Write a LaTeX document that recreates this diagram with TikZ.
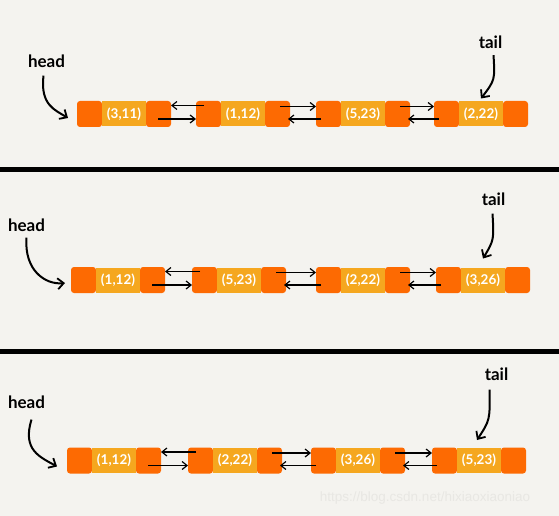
\documentclass[tikz,border=0pt]{standalone}
\usepackage{fontspec}
\setmainfont{Lato}
\newfontfamily\wmfont{Liberation Sans}
\usetikzlibrary{arrows.meta}
\definecolor{bg}{HTML}{F4F3EF}
\definecolor{orng}{HTML}{FD6A02}
\definecolor{ylw}{HTML}{F5A71F}
\definecolor{wm}{HTML}{E8E7E3}
\tikzset{
  orbox/.style={minimum width=25pt, minimum height=26pt, inner sep=0pt, outer sep=0pt, fill=orng, rounded corners=3pt},
  ylbox/.style={minimum width=44pt, minimum height=25pt, inner sep=0pt, outer sep=0pt, fill=ylw, text=white, font=\bfseries\fontsize{13.5}{13.5}\selectfont},
  ptr/.style={line width=1.3pt, -{Straight Barb[length=5pt,width=8pt,line width=1.2pt]}},
  bigptr/.style={line width=2pt, -{Straight Barb[length=6pt,width=11pt,line width=1.8pt]}},
  lbl/.style={font=\bfseries\fontsize{17}{17}\selectfont, inner sep=0pt},
  sep/.style={fill=black}
}
\newcommand\lnode[4]{%
  \node[orbox, anchor=west] (#1l) at (#2,#3) {};
  \node[ylbox, anchor=west] (#1m) at (#1l.east) {#4};
  \node[orbox, anchor=west] (#1r) at (#1m.east) {};
}
% top arrow back, bottom arrow forward
\newcommand\linkA[2]{%
  \draw[ptr] ([xshift=8pt,yshift=8.5pt]#2l.west) -- ([yshift=8.5pt]#1r.east);
  \draw[ptr] ([xshift=-13pt,yshift=-5pt]#1r.east) -- ([yshift=-5pt]#2l.west);
}
% top arrow forward, bottom arrow back
\newcommand\linkB[2]{%
  \draw[ptr] ([xshift=-10pt,yshift=7.5pt]#1r.east) -- ([yshift=7.5pt]#2l.west);
  \draw[ptr] ([xshift=5pt,yshift=-5pt]#2l.west) -- ([xshift=-2pt,yshift=-5pt]#1r.east);
}
\begin{document}
\begin{tikzpicture}[x=1pt,y=-1pt]
\useasboundingbox (0,0) rectangle (559,516);
\fill[bg] (0,0) rectangle (559,516);
\fill[sep] (0,166.5) rectangle (559,171.5);
\fill[sep] (0,349) rectangle (559,354);

% panel 1
\lnode{pa}{77}{114}{(3,11)}
\lnode{pb}{196}{114}{(1,12)}
\lnode{pc}{316}{114}{(5,23)}
\lnode{pd}{434}{114}{(2,22)}
\linkA{pa}{pb}
\linkB{pb}{pc}
\linkB{pc}{pd}
\node[lbl] (h1) at (46.5,61) {head};
\node[lbl] (t1) at (490.5,42.5) {tail};
\draw[bigptr] ([xshift=-3pt,yshift=-8pt]h1.south) .. controls (40,105) and (55,110) .. ([xshift=-9pt,yshift=-4pt]pal.west);
\draw[bigptr] ([xshift=3pt,yshift=-6pt]t1.south) .. controls (495,80) .. ([yshift=3pt]pdm.north);

% panel 2
\lnode{qa}{71}{280}{(1,12)}
\lnode{qb}{192}{280}{(5,23)}
\lnode{qc}{316}{280}{(2,22)}
\lnode{qd}{436}{280}{(3,26)}
\linkA{qa}{qb}
\linkB{qb}{qc}
\linkB{qc}{qd}
\node[lbl] (h2) at (26.5,225) {head};
\node[lbl] (t2) at (493.5,199) {tail};
\draw[bigptr] ([yshift=-6pt]h2.south) .. controls (24,270) and (45,285) .. ([xshift=-6pt,yshift=-3pt]qal.west);
\draw[bigptr] ([xshift=-1pt,yshift=-8pt]t2.south) .. controls (494,240) .. ([yshift=9pt]qdm.north);

% panel 3
\lnode{ra}{67}{460.5}{(1,12)}
\lnode{rb}{188}{460.5}{(2,22)}
\lnode{rc}{311}{460.5}{(3,26)}
\lnode{rd}{432}{460.5}{(5,23)}
\linkA{ra}{rb}
\linkB{rb}{rc}
\linkB{rc}{rd}
\node[lbl] (h3) at (26.5,402) {head};
\node[lbl] (t3) at (496.5,374) {tail};
\draw[bigptr] ([xshift=5pt,yshift=-11pt]h3.south) .. controls (22,450) and (40,457) .. ([xshift=-10pt,yshift=-6pt]ral.west);
\draw[bigptr] ([xshift=-7pt,yshift=-9pt]t3.south) .. controls (490,420) .. ([xshift=-2pt,yshift=8pt]rdm.north);

\node[font=\wmfont\fontsize{13.5}{13.5}\selectfont, text=wm, inner sep=0pt] (wmk) at (425,498.5) {https://blog.csdn.net/hixiaoxiaoniao};
\end{tikzpicture}
\end{document}
